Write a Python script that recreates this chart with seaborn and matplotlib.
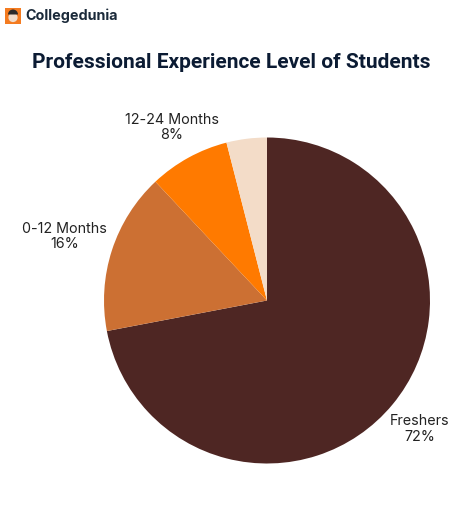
import matplotlib
matplotlib.use("Agg")
import matplotlib.pyplot as plt
from matplotlib.patches import Circle, Rectangle, Wedge
import seaborn as sns

categories = ["Freshers", "0-12 Months", "12-24 Months", "Other"]
shares = [72, 16, 8, 4]
show_label = [True, True, True, False]
colors = ["#4E2623", "#CC7033", "#FF7A00", "#F3DCC8"]

title = "Professional Experience Level of Students"
brand = "Collegedunia"

sns.set_theme(style="white")
plt.rcParams["font.family"] = ["Inter", "DejaVu Sans"]

W, H = 462, 512
fig = plt.figure(figsize=(W / 100, H / 100), dpi=100, facecolor="white")

# pie radius 163px centred on (267, 300), default pie limits are +-1.25
R = 163
ax = fig.add_axes([(267 - 1.25 * R) / W, (H - 300.5 - 1.25 * R) / H, 2.5 * R / W, 2.5 * R / H])

labels = [f"{c}\n{s}%" if keep else "" for c, s, keep in zip(categories, shares, show_label)]
wedges, texts = ax.pie(shares, labels=labels, colors=sns.color_palette(colors),
                       startangle=90, counterclock=False,
                       wedgeprops={"linewidth": 0},
                       textprops={"fontsize": 10.3, "color": "#222222", "linespacing": 1.1})

# label centres, pixel offset from the pie centre
offsets = [(153, -128.5), (-202.5, 64), (-95, 173), (0, 0)]
for t, (dx, dy) in zip(texts, offsets):
    t.set_position((dx / R, dy / R))
    t.set_ha("center")
    t.set_va("center")
    t.set_clip_on(False)

fig.text(231 / W, 1 - 62.5 / H, title, ha="center", va="center", fontsize=15.05,
         fontweight="bold", color="#0B1B33", family=["Roboto", "DejaVu Sans"])

# logo
overlay = fig.add_axes([0, 0, 1, 1], zorder=5)
overlay.set_xlim(0, W)
overlay.set_ylim(H, 0)
overlay.axis("off")
overlay.add_patch(Rectangle((5, 8), 16, 16, color="#F47B20", lw=0))
overlay.add_patch(Circle((13, 17.5), 4.6, color="#F0DCCB", lw=0))
overlay.add_patch(Wedge((13, 14.5), 5, 180, 360, color="#2A2A2A", lw=0))
overlay.text(25, 15.5, brand, ha="left", va="center", fontsize=10.3, fontweight="bold",
             color="#1B2A3A", family=["Inter", "DejaVu Sans"])

fig.savefig("out.png", dpi=100)
